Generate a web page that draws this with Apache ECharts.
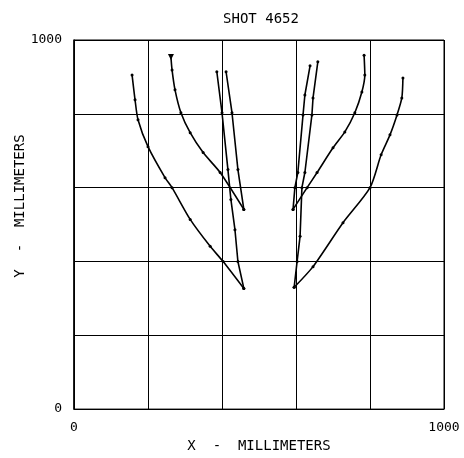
<!DOCTYPE html>
<html>
<head>
<meta charset="utf-8">
<script src="https://cdn.jsdelivr.net/npm/echarts@6/dist/echarts.min.js"></script>
<style>html,body{margin:0;padding:0;background:#fff;}#c{width:464px;height:458px;}</style>
</head>
<body>
<div id="c"></div>
<script>
// Track data [x mm, y mm]
var trackA = [[157,905],[165,838],[173,784],[200,711],[246,627],[265,600],[314,514],[368,441],[403,400],[459,327]];
var trackB = [[262,954],[265,919],[273,865],[289,803],[314,749],[349,695],[395,641],[459,541]];
var trackC = [[386,914],[400,803],[416,649],[424,568],[435,486],[443,400],[459,327]];
var trackD = [[411,914],[427,803],[443,649],[459,541]];
var trackE = [[889,897],[886,843],[873,797],[854,743],[830,689],[800,600],[727,505],[646,386],[595,330]];
var trackF = [[784,959],[786,905],[778,859],[759,803],[732,751],[700,708],[657,641],[630,600],[592,541]];
var trackG = [[638,930],[624,851],[619,797],[605,641],[597,600],[592,541]];
var trackH = [[659,941],[646,843],[643,797],[624,641],[616,600],[611,468],[603,400],[595,330]];
var tracks = [trackA, trackB, trackC, trackD, trackE, trackF, trackG, trackH];
var curved = [true, true, false, false, true, true, false, false];
var axisMin = 0, axisMax = 1000, axisStep = 200;
var titleText = 'SHOT 4652';
var xName = 'X  -  MILLIMETERS';
var yName = 'Y  -  MILLIMETERS';

var font = 'DejaVu Sans Mono';
function edgeLabel(v){ return (v === axisMin || v === axisMax) ? String(v) : ''; }

var series = tracks.map(function(t, i){
  var data = t.map(function(p, j){
    if (i === 1 && j === 0) {
      return {value: p, symbol: 'triangle', symbolRotate: 180, symbolSize: 6};
    }
    return p;
  });
  return {
    type: 'line', data: data, symbol: 'circle', symbolSize: 3,
    showAllSymbol: true, smooth: curved[i] ? 0.25 : false,
    lineStyle: {color: '#000', width: 1.6},
    itemStyle: {color: '#000'},
    animation: false, silent: true
  };
});

var chart = echarts.init(document.getElementById('c'), null, {renderer: 'canvas'});
chart.setOption({
  backgroundColor: '#fff',
  animation: false,
  title: {text: titleText, left: 256, top: 7, textAlign: 'center',
    textStyle: {fontFamily: font, fontSize: 14, fontWeight: 'normal', color: '#000'}},
  grid: {left: 74, right: 20, top: 40, bottom: 48, show: true, borderColor: '#000', borderWidth: 1},
  xAxis: {
    type: 'value', min: axisMin, max: axisMax, interval: axisStep,
    name: xName, nameLocation: 'middle', nameGap: 28,
    nameTextStyle: {fontFamily: font, fontSize: 14, color: '#000'},
    axisLine: {show: true, lineStyle: {color: '#000', width: 1}},
    axisTick: {show: false},
    axisLabel: {formatter: edgeLabel, fontFamily: font, fontSize: 13, color: '#000', margin: 12, showMinLabel: true, showMaxLabel: true},
    splitLine: {show: true, lineStyle: {color: '#000', width: 1}}
  },
  yAxis: {
    type: 'value', min: axisMin, max: axisMax, interval: axisStep,
    axisLine: {show: true, lineStyle: {color: '#000', width: 1.5}},
    axisTick: {show: false},
    axisLabel: {formatter: edgeLabel, fontFamily: font, fontSize: 13, color: '#000', margin: 12, showMinLabel: true, showMaxLabel: true},
    splitLine: {show: true, lineStyle: {color: '#000', width: 1}}
  },
  graphic: [{
    type: 'text', x: 20, y: 206, rotation: Math.PI / 2,
    style: {text: yName, fontFamily: font, fontSize: 14, fill: '#000', textAlign: 'center', textVerticalAlign: 'middle'}
  }],
  series: series
});
</script>
</body>
</html>
